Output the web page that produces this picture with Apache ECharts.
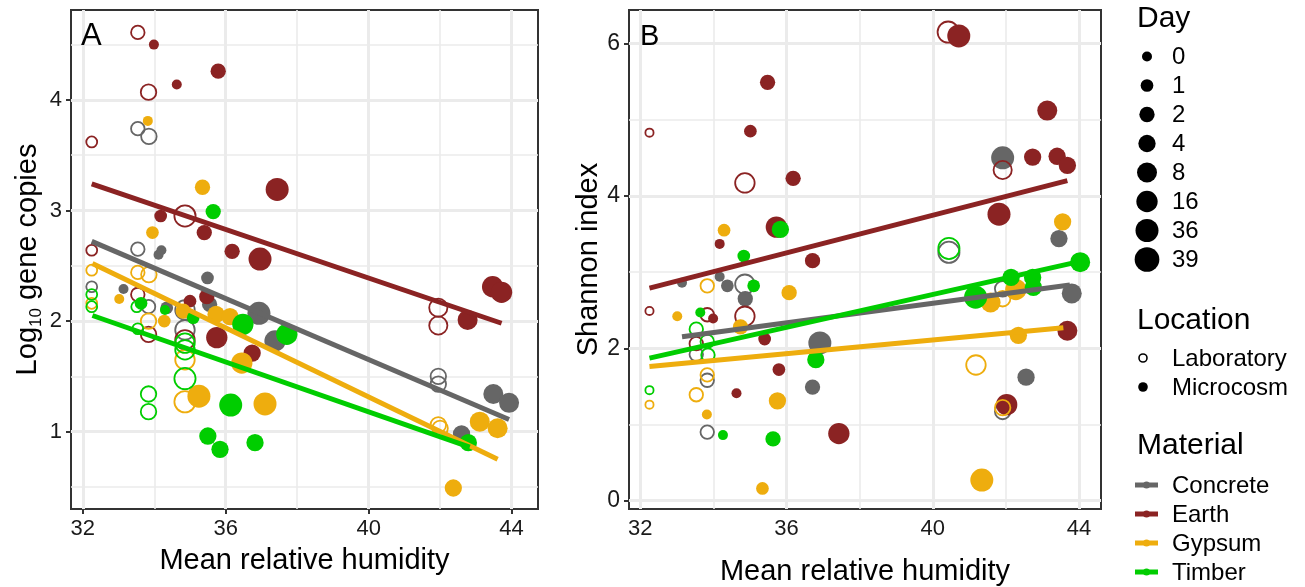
<!DOCTYPE html>
<html>
<head>
<meta charset="utf-8">
<script src="https://cdn.jsdelivr.net/npm/echarts@6/dist/echarts.min.js"></script>
<style>
    html, body { margin: 0; padding: 0; background: #fff; }
    #charts-con { width: 1305px; height: 587px; }
</style>
</head>
<body>
<div id="charts-con" class="charts-con"></div>
<script>
    var materials = ['Concrete', 'Earth', 'Gypsum', 'Timber'];
    var matColors = ['#666666', '#8b2323', '#eead0e', '#00cd00'];
    var locations = ['Laboratory', 'Microcosm'];
    var dayLevels = [0, 1, 2, 4, 8, 16, 36, 39];
    var daySizes = [10, 12.7, 15.3, 17.3, 20, 21.3, 23, 24.7];

    var xTicks = [32, 36, 40, 44];
    var xMinor = [34, 38, 42];
    var geneTicks = [1, 2, 3, 4];
    var geneMinor = [0.5, 1.5, 2.5, 3.5, 4.5];
    var shannonTicks = [0, 2, 4, 6];
    var shannonMinor = [1, 3, 5];

    // panel A: log10 gene copies  [humidity, value, day]
    var geneConcreteLab = [[33.54, 3.74, 2], [33.85, 3.67, 4], [33.54, 2.65, 2], [32.25, 2.31, 1], [33.84, 2.13, 2], [34.86, 2.10, 16], [34.86, 1.92, 16], [41.95, 1.50, 4], [41.95, 1.43, 4]];
    var geneConcreteMic = [[34.12, 2.60, 0], [34.20, 2.64, 0], [35.49, 2.39, 1], [33.14, 2.29, 0], [34.35, 2.12, 1], [35.55, 2.15, 2], [36.93, 2.07, 36], [37.38, 1.82, 16], [43.49, 1.34, 8], [43.93, 1.26, 8], [42.60, 0.98, 4]];
    var geneEarthLab = [[33.54, 4.61, 2], [33.84, 4.07, 4], [32.25, 3.62, 1], [34.86, 2.95, 36], [32.25, 2.64, 1], [33.54, 2.24, 2], [33.84, 1.88, 4], [34.86, 1.83, 16], [41.95, 2.12, 8], [41.95, 1.96, 8]];
    var geneEarthMic = [[33.99, 4.50, 0], [35.79, 4.26, 2], [34.63, 4.14, 0], [37.44, 3.19, 36], [34.18, 2.95, 1], [35.40, 2.80, 2], [36.18, 2.63, 2], [36.96, 2.56, 36], [35.47, 2.22, 2], [35.00, 2.18, 1], [35.75, 1.85, 16], [36.74, 1.71, 4], [43.47, 2.31, 16], [43.72, 2.26, 16], [42.77, 2.01, 8]];
    var geneGypsumLab = [[32.25, 2.46, 1], [33.54, 2.44, 2], [33.85, 2.42, 4], [32.25, 2.16, 1], [33.84, 2.00, 4], [34.86, 1.65, 16], [34.86, 1.27, 36], [41.95, 1.06, 4], [42.00, 1.03, 4]];
    var geneGypsumMic = [[33.82, 3.81, 0], [35.35, 3.21, 2], [33.95, 2.80, 1], [33.02, 2.20, 0], [34.81, 2.09, 2], [35.73, 2.06, 4], [36.12, 2.04, 4], [34.28, 2.00, 1], [36.45, 1.62, 16], [35.25, 1.32, 36], [37.10, 1.25, 36], [43.11, 1.09, 8], [43.61, 1.03, 8], [42.37, 0.49, 4]];
    var geneTimberLab = [[32.25, 2.24, 1], [32.25, 2.13, 1], [33.51, 2.13, 1], [33.54, 1.93, 1], [34.86, 1.80, 16], [34.86, 1.74, 16], [34.86, 1.48, 36], [33.84, 1.34, 4], [33.84, 1.18, 4]];
    var geneTimberMic = [[35.65, 2.99, 2], [33.63, 2.16, 1], [34.30, 2.10, 0], [35.09, 2.03, 1], [36.48, 1.97, 16], [37.71, 1.88, 16], [36.14, 1.24, 36], [35.50, 0.96, 4], [35.84, 0.84, 4], [36.82, 0.90, 4], [42.79, 0.90, 4]];
    var geneFitConcrete = [[32.25, 2.72], [43.93, 1.11]];
    var geneFitEarth = [[32.25, 3.24], [43.72, 1.98]];
    var geneFitGypsum = [[32.27, 2.52], [43.61, 0.75]];
    var geneFitTimber = [[32.27, 2.05], [42.83, 0.86]];

    // panel B: Shannon index
    var shanConcreteLab = [[34.86, 2.84, 16], [33.53, 1.92, 2], [33.83, 1.58, 2], [33.83, 0.90, 2], [40.44, 3.26, 36], [41.91, 2.78, 4], [41.91, 1.17, 4]];
    var shanConcreteMic = [[33.14, 2.86, 0], [34.17, 2.94, 0], [34.38, 2.82, 1], [34.87, 2.65, 2], [36.91, 2.07, 36], [36.71, 1.49, 2], [41.91, 4.50, 36], [43.45, 3.44, 4], [43.80, 2.72, 8], [42.55, 1.62, 4]];
    var shanEarthLab = [[32.25, 4.83, 0], [34.86, 4.17, 16], [32.25, 2.49, 0], [33.83, 2.44, 2], [34.86, 2.42, 16], [33.53, 2.06, 2], [40.42, 6.15, 36], [41.91, 4.34, 8]];
    var shanEarthMic = [[35.48, 5.49, 2], [35.01, 4.85, 1], [36.18, 4.23, 2], [35.72, 3.59, 16], [34.17, 3.37, 0], [36.71, 3.15, 2], [33.99, 2.39, 0], [35.40, 2.12, 1], [35.79, 1.72, 1], [34.63, 1.41, 0], [37.43, 0.88, 16], [40.71, 6.10, 36], [43.13, 5.12, 8], [42.73, 4.51, 4], [43.40, 4.52, 4], [43.68, 4.40, 4], [41.81, 3.76, 36], [43.68, 2.23, 8], [42.02, 1.26, 16]];
    var shanGypsumLab = [[33.83, 2.82, 2], [33.83, 1.65, 2], [32.25, 1.26, 0], [33.53, 1.39, 2], [41.91, 2.65, 4], [41.18, 1.78, 16], [41.91, 1.22, 4]];
    var shanGypsumMic = [[34.29, 3.55, 1], [36.07, 2.73, 2], [33.01, 2.42, 0], [34.74, 2.28, 2], [35.75, 1.31, 4], [33.82, 1.13, 0], [35.34, 0.16, 1], [43.55, 3.66, 4], [42.27, 2.77, 16], [41.58, 2.60, 8], [42.34, 2.17, 4], [41.34, 0.27, 36]];
    var shanTimberLab = [[33.53, 2.25, 2], [33.83, 2.09, 2], [33.85, 1.91, 2], [32.25, 1.45, 0], [40.44, 3.31, 36]];
    var shanTimberMic = [[35.83, 3.56, 4], [34.83, 3.21, 1], [35.10, 2.82, 1], [33.64, 2.47, 0], [36.80, 1.85, 4], [34.26, 0.86, 0], [35.63, 0.81, 2], [44.03, 3.13, 8], [42.14, 2.93, 4], [42.73, 2.93, 4], [42.75, 2.80, 4], [41.17, 2.67, 36]];
    var shanFitConcrete = [[33.14, 2.15], [43.75, 2.83]];
    var shanFitEarth = [[32.25, 2.79], [43.68, 4.20]];
    var shanFitGypsum = [[32.25, 1.76], [43.57, 2.27]];
    var shanFitTimber = [[32.25, 1.87], [44.03, 3.14]];

    var font = '"Liberation Sans", Arial, sans-serif';

    var panels = [
        {
            lab: [geneConcreteLab, geneEarthLab, geneGypsumLab, geneTimberLab],
            mic: [geneConcreteMic, geneEarthMic, geneGypsumMic, geneTimberMic],
            fit: [geneFitConcrete, geneFitEarth, geneFitGypsum, geneFitTimber],
            yMajor: geneTicks, yMinor: geneMinor
        },
        {
            lab: [shanConcreteLab, shanEarthLab, shanGypsumLab, shanTimberLab],
            mic: [shanConcreteMic, shanEarthMic, shanGypsumMic, shanTimberMic],
            fit: [shanFitConcrete, shanFitEarth, shanFitGypsum, shanFitTimber],
            yMajor: shannonTicks, yMinor: shannonMinor
        }
    ];

    function sizeOf(day) {
        var i = dayLevels.indexOf(day);
        return daySizes[i < 0 ? 0 : i];
    }

    var series = [];
    panels.forEach(function (p, pi) {
        // grid lines as mark lines so they sit on the real tick values
        var gl = [];
        xTicks.forEach(function (v) { gl.push({ xAxis: v, lineStyle: { width: 3 } }); });
        xMinor.forEach(function (v) { gl.push({ xAxis: v, lineStyle: { width: 1.6 } }); });
        p.yMajor.forEach(function (v) { gl.push({ yAxis: v, lineStyle: { width: 3 } }); });
        p.yMinor.forEach(function (v) { gl.push({ yAxis: v, lineStyle: { width: 1.6 } }); });
        series.push({
            type: 'line',
            xAxisIndex: pi,
            yAxisIndex: pi,
            data: [],
            z: 1,
            markLine: {
                silent: true,
                z: 1,
                symbol: ['none', 'none'],
                label: { show: false },
                lineStyle: { color: '#ebebeb', type: 'solid' },
                data: gl
            }
        });

        materials.forEach(function (m, mi) {
            var col = matColors[mi];
            series.push({
                name: m + ' ' + locations[0],
                type: 'scatter',
                xAxisIndex: pi,
                yAxisIndex: pi,
                data: p.lab[mi],
                z: 6,
                symbol: 'circle',
                symbolSize: function (v) { return sizeOf(v[2]) - 1.8; },
                itemStyle: { color: 'rgba(0,0,0,0)', borderColor: col, borderWidth: 1.8, opacity: 1 }
            });
            series.push({
                name: m + ' ' + locations[1],
                type: 'scatter',
                xAxisIndex: pi,
                yAxisIndex: pi,
                data: p.mic[mi],
                z: 6,
                symbol: 'circle',
                symbolSize: function (v) { return sizeOf(v[2]); },
                itemStyle: { color: col, opacity: 1 }
            });
        });
        materials.forEach(function (m, mi) {
            series.push({
                name: m + ' fit',
                type: 'line',
                xAxisIndex: pi,
                yAxisIndex: pi,
                data: p.fit[mi],
                z: 7,
                symbol: 'none',
                lineStyle: { color: matColors[mi], width: 5, cap: 'butt' }
            });
        });
    });

    function xAxisOf(idx, gap) {
        return {
            type: 'value',
            gridIndex: idx,
            min: idx === 0 ? 31.67 : 31.69,
            max: idx === 0 ? 44.74 : 44.6,
            name: 'Mean relative humidity',
            nameLocation: 'middle',
            nameGap: gap,
            nameTextStyle: { fontFamily: font, fontSize: 29, color: '#000' },
            axisLine: { show: false },
            splitLine: { show: false },
            axisTick: { show: true, length: 5, lineStyle: { color: '#333', width: 2 }, customValues: xTicks },
            axisLabel: { fontFamily: font, fontSize: 22, color: '#1a1a1a', margin: 9, customValues: xTicks }
        };
    }

    function yAxisOf(idx, ticks, min, max, name, rich, gap, labelSize) {
        return {
            type: 'value',
            gridIndex: idx,
            min: min,
            max: max,
            name: name,
            nameLocation: 'middle',
            nameGap: gap,
            nameTextStyle: { fontFamily: font, fontSize: 29, color: '#000', rich: rich },
            axisLine: { show: false },
            splitLine: { show: false },
            axisTick: { show: true, length: 5, lineStyle: { color: '#333', width: 2 }, customValues: ticks },
            axisLabel: { fontFamily: font, fontSize: labelSize, color: '#1a1a1a', margin: 9, customValues: ticks }
        };
    }

    // legend drawn by hand (size, fill and colour keys)
    var graphics = [];
    function txt(x, y, s, size) {
        graphics.push({
            type: 'text', x: x, y: y, silent: true, z: 100,
            style: { text: s, fill: '#000', font: size + 'px ' + font, verticalAlign: 'middle' }
        });
    }
    txt(81, 36, 'A', 31);
    txt(640, 37, 'B', 29);

    txt(1137, 19, 'Day', 30);
    dayLevels.forEach(function (d, i) {
        var y = 56.5 + i * 29;
        graphics.push({ type: 'circle', silent: true, z: 100, shape: { cx: 1147, cy: y, r: daySizes[i] / 2 }, style: { fill: '#000' } });
        txt(1172, y + 1, String(d), 24);
    });

    txt(1137, 321, 'Location', 30);
    locations.forEach(function (l, i) {
        var y = 358 + i * 29;
        if (i === 0) {
            graphics.push({ type: 'circle', silent: true, z: 100, shape: { cx: 1143, cy: y, r: 4 }, style: { fill: 'none', stroke: '#000', lineWidth: 1.6 } });
        } else {
            graphics.push({ type: 'circle', silent: true, z: 100, shape: { cx: 1143, cy: y, r: 4.8 }, style: { fill: '#000' } });
        }
        txt(1172, y + 1, l, 24);
    });

    txt(1137, 446, 'Material', 30);
    materials.forEach(function (m, i) {
        var y = 485 + i * 29;
        graphics.push({ type: 'line', silent: true, z: 100, shape: { x1: 1135, y1: y, x2: 1158, y2: y }, style: { stroke: matColors[i], lineWidth: 5 } });
        graphics.push({ type: 'circle', silent: true, z: 101, shape: { cx: 1146.5, cy: y, r: 3.5 }, style: { fill: matColors[i] } });
        txt(1172, y + 1, m, 24);
    });

    var myChart = echarts.init(document.getElementById('charts-con'));
    var option = {
        animation: false,
        backgroundColor: '#fff',
        grid: [
            { left: 71, top: 10, width: 467, height: 499, show: true, backgroundColor: '#fff', borderColor: '#333', borderWidth: 2, outerBoundsMode: 'none' },
            { left: 629, top: 10, width: 472, height: 499, show: true, backgroundColor: '#fff', borderColor: '#333', borderWidth: 2, outerBoundsMode: 'none' }
        ],
        xAxis: [xAxisOf(0, 37), xAxisOf(1, 48)],
        yAxis: [
            yAxisOf(0, geneTicks, 0.30, 4.813, '{n|Log}{s|10}{n| gene copies}', {
                n: { fontFamily: font, fontSize: 29, lineHeight: 34, verticalAlign: 'middle' },
                s: { fontFamily: font, fontSize: 17, lineHeight: 17, verticalAlign: 'bottom' }
            }, 26, 22),
            yAxisOf(1, shannonTicks, -0.11, 6.44, 'Shannon index', null, 24, 23)
        ],
        series: series,
        graphic: graphics
    };
    myChart.setOption(option);
</script>
</body>
</html>
